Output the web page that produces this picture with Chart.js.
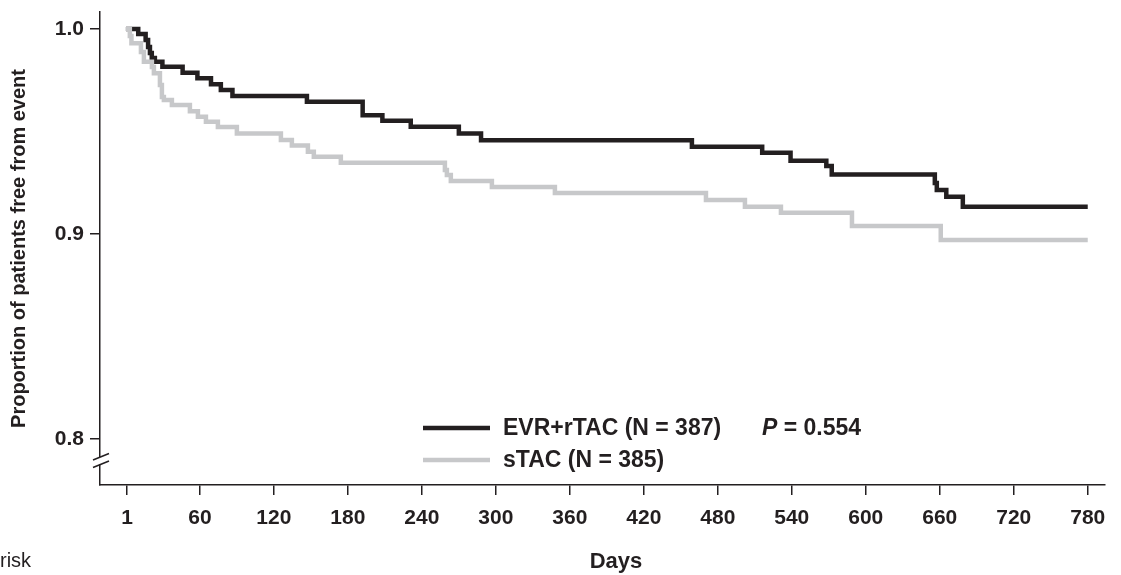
<!DOCTYPE html>
<html>
<head>
<meta charset="utf-8">
<script src="https://cdn.jsdelivr.net/npm/chart.js@4/dist/chart.umd.min.js"></script>
<style>
  html, body { margin: 0; padding: 0; background: #fff; }
  #wrap { width: 1121px; height: 575px; }
</style>
</head>
<body>
<div id="wrap"><canvas id="km" width="1121" height="575"></canvas></div>
<script>
// ticks
const xTicks = [1, 60, 120, 180, 240, 300, 360, 420, 480, 540, 600, 660, 720, 780];
const yTicks = [0.8, 0.9, 1.0];

// EVR+rTAC, step points (day, proportion after the drop)
const evrDays = [0, 10, 16, 18, 19.5, 21, 23.5, 29.6, 46, 58, 69, 77, 86.4, 146.8, 192, 208, 231, 270, 288, 459, 516, 539, 568, 572.4, 656, 657.6, 665.3, 678.7, 780];
const evrSurv = [1.0, 0.9976, 0.9946, 0.9912, 0.9883, 0.9859, 0.984, 0.9816, 0.9787, 0.976, 0.973, 0.9702, 0.9673, 0.9645, 0.958, 0.9553, 0.9523, 0.9491, 0.9457, 0.9426, 0.9397, 0.9358, 0.9332, 0.9291, 0.9249, 0.9215, 0.9182, 0.9133, 0.9133];

// sTAC
const stacDays = [0, 3.2, 4.5, 12.2, 14.6, 21.1, 22.7, 27.6, 29.2, 30.8, 37.3, 51.9, 58.4, 64.9, 74.6, 90, 125.7, 134.6, 147.6, 152.4, 174.3, 258.7, 260.3, 263.5, 296.8, 347.9, 470.4, 502, 531.2, 588.8, 660.8, 780];
const stacSurv = [1.0, 0.9966, 0.993, 0.9888, 0.984, 0.9815, 0.9784, 0.9727, 0.9668, 0.9654, 0.9629, 0.9599, 0.9572, 0.9548, 0.9522, 0.9491, 0.9459, 0.9432, 0.9401, 0.9377, 0.9348, 0.9312, 0.9288, 0.9259, 0.9229, 0.92, 0.9166, 0.9133, 0.9104, 0.9039, 0.8971, 0.8971];

const seriesLabels = ['EVR+rTAC (N = 387)', 'sTAC (N = 385)'];
const pValue = '0.554';

const ink = '#231f20';
const grey = '#c7c8ca';
const fam = '"Liberation Sans", Arial, Helvetica, sans-serif';

function toPoints(days, vals) {
  return days.map((d, i) => ({ x: d, y: vals[i] }));
}

const extras = {
  id: 'extras',
  afterDraw(chart) {
    const ctx = chart.ctx;
    ctx.save();

    // legend
    const rows = [428, 460];
    chart.data.datasets.forEach((ds, i) => {
      ctx.strokeStyle = ds.borderColor;
      ctx.lineWidth = 4.5;
      ctx.beginPath();
      ctx.moveTo(423, rows[i]);
      ctx.lineTo(490, rows[i]);
      ctx.stroke();
      ctx.fillStyle = ink;
      ctx.font = 'bold 23px ' + fam;
      ctx.textBaseline = 'middle';
      ctx.textAlign = 'left';
      ctx.fillText(ds.label, 503, rows[i] + 1);
    });

    // p value
    ctx.font = 'italic bold 23px ' + fam;
    ctx.fillText('P', 762, rows[0] + 1);
    const pw = ctx.measureText('P').width;
    ctx.font = 'bold 23px ' + fam;
    ctx.fillText(' = ' + pValue, 762 + pw, rows[0] + 1);

    // axis break on y
    const ax = chart.chartArea.left;
    ctx.fillStyle = '#fff';
    ctx.fillRect(ax - 2, 457, 4, 7);
    ctx.strokeStyle = ink;
    ctx.lineWidth = 1.5;
    ctx.beginPath();
    ctx.moveTo(ax - 7, 460); ctx.lineTo(ax + 9, 453.5);
    ctx.moveTo(ax - 7, 467.5); ctx.lineTo(ax + 9, 461);
    ctx.stroke();

    // x title
    ctx.fillStyle = ink;
    ctx.font = 'bold 22px ' + fam;
    ctx.textAlign = 'center';
    ctx.fillText('Days', 616, 562);

    // cut-off "at risk" text
    ctx.font = '20px ' + fam;
    ctx.textAlign = 'left';
    ctx.fillText('risk', 0, 561);

    ctx.restore();
  }
};

new Chart(document.getElementById('km'), {
  type: 'line',
  data: {
    datasets: [
      {
        label: seriesLabels[0],
        data: toPoints(evrDays, evrSurv),
        borderColor: ink,
        borderWidth: 4.5,
        stepped: true,
        pointRadius: 0,
        fill: false,
        order: 1
      },
      {
        label: seriesLabels[1],
        data: toPoints(stacDays, stacSurv),
        borderColor: grey,
        borderWidth: 4.5,
        stepped: true,
        pointRadius: 0,
        fill: false,
        order: 0
      }
    ]
  },
  options: {
    responsive: false,
    animation: false,
    devicePixelRatio: 1,
    layout: { padding: { top: 12, right: 16, left: 0, bottom: 0 } },
    plugins: {
      legend: { display: false },
      tooltip: { enabled: false }
    },
    scales: {
      x: {
        type: 'linear',
        min: -21,
        max: 794,
        afterBuildTicks: s => { s.ticks = xTicks.map(v => ({ value: v })); },
        afterFit: s => { s.height = 90; s.paddingLeft = 0; s.paddingRight = 0; },
        grid: { drawOnChartArea: false, drawTicks: true, tickLength: 10, color: ink, lineWidth: 1.5 },
        border: { display: true, color: ink, width: 1.5 },
        ticks: { color: ink, font: { family: fam, size: 21, weight: 'bold' }, padding: 11, maxRotation: 0, autoSkip: false },
        title: { display: false }
      },
      y: {
        min: 0.7776,
        max: 1.0083,
        afterBuildTicks: s => { s.ticks = yTicks.map(v => ({ value: v })); },
        afterFit: s => { s.width = 100; s.paddingTop = 0; s.paddingBottom = 0; },
        grid: { drawOnChartArea: false, drawTicks: true, tickLength: 10, color: ink, lineWidth: 1.5 },
        border: { display: true, color: ink, width: 1.5 },
        ticks: { color: ink, font: { family: fam, size: 21, weight: 'bold' }, padding: 6, callback: v => v.toFixed(1) },
        title: {
          display: true,
          text: 'Proportion of patients free from event',
          color: ink,
          font: { family: fam, size: 20, weight: 'bold' },
          padding: { top: 7, bottom: 0 }
        }
      }
    }
  },
  plugins: [extras]
});
</script>
</body>
</html>
